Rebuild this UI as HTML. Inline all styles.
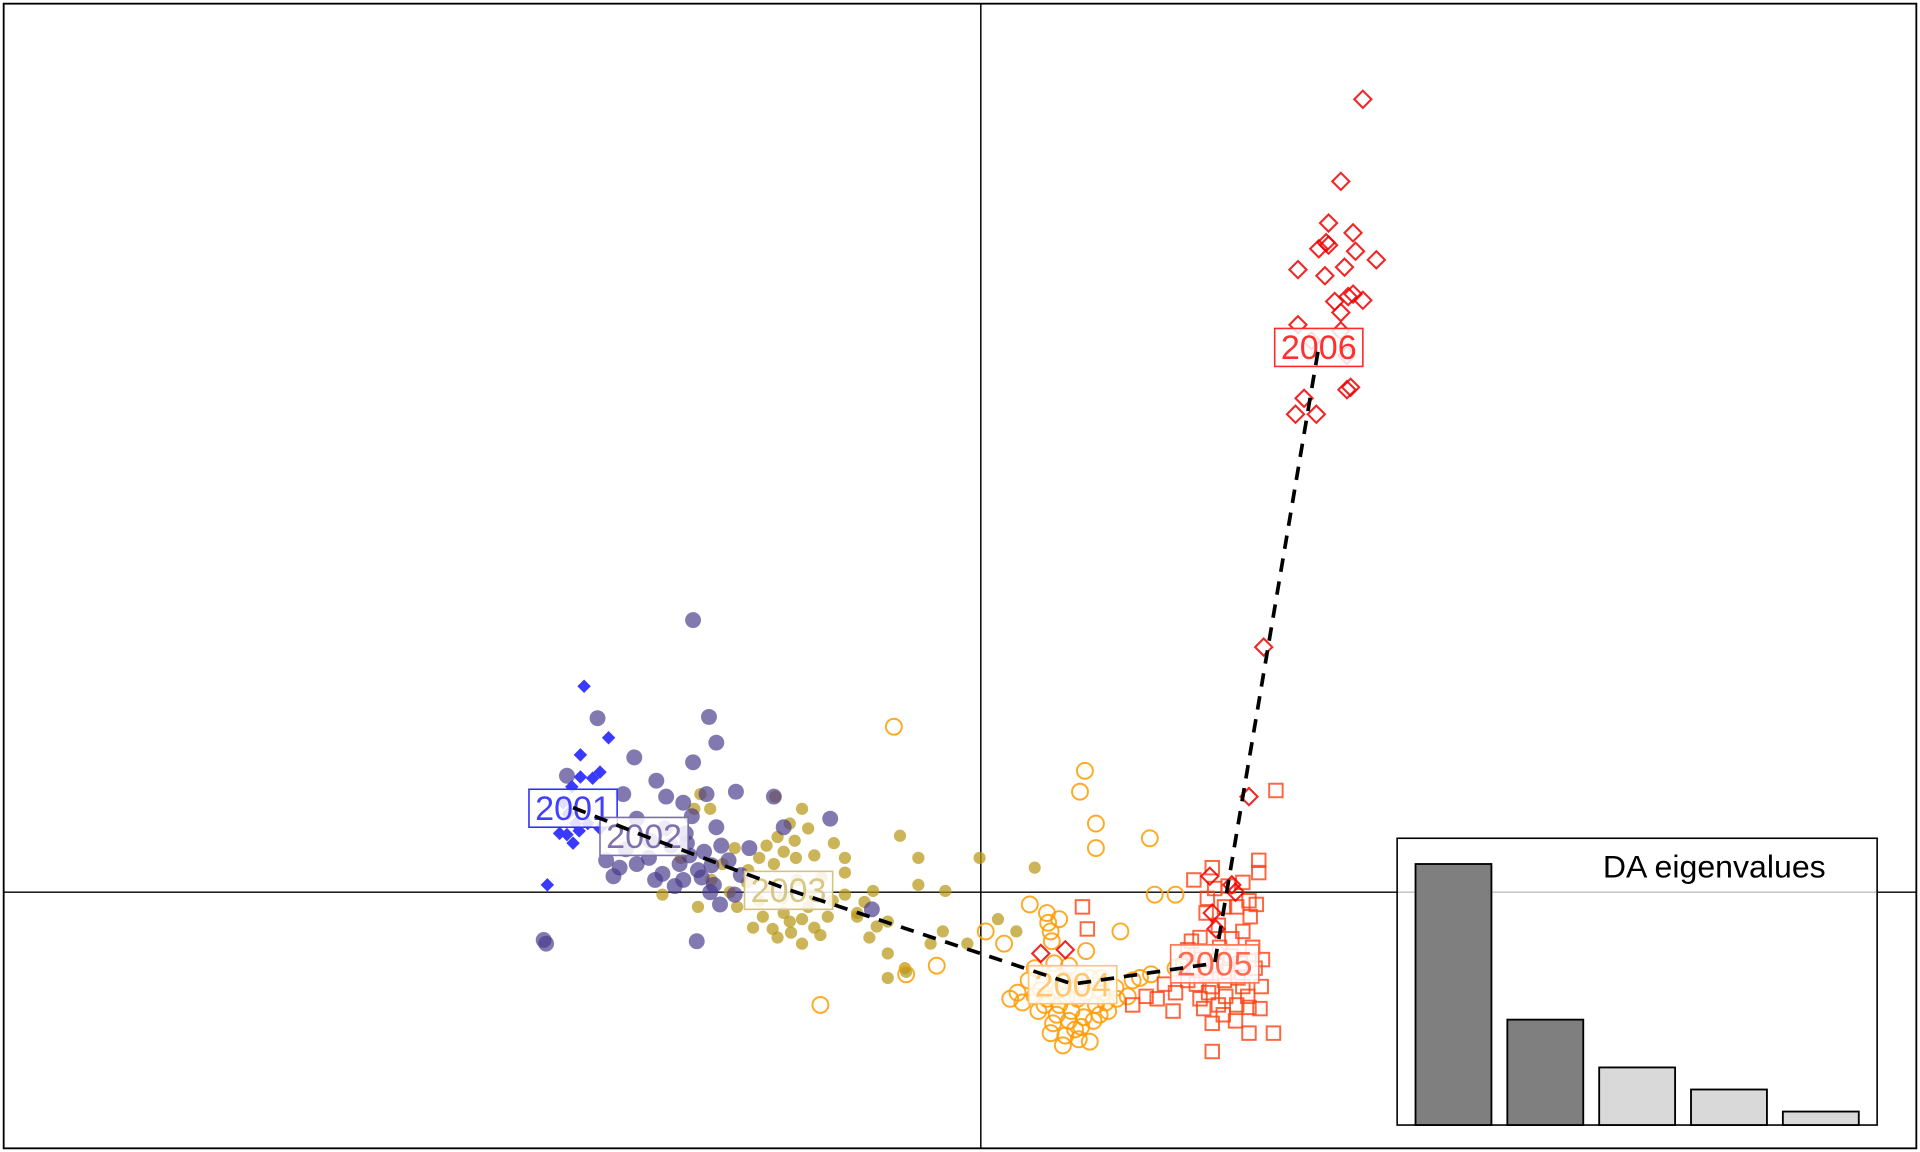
<!DOCTYPE html>
<html><head><meta charset="utf-8"><style>
html,body{margin:0;padding:0;background:#fff;}
svg{display:block;font-family:"Liberation Sans",sans-serif;}
</style></head><body>
<svg id="chart" width="1920" height="1152" viewBox="0 0 1568 940" preserveAspectRatio="none" xmlns="http://www.w3.org/2000/svg">
<rect x="3" y="3" width="1562" height="934" fill="#fff" stroke="#000" stroke-width="1.5"/>
<line x1="801" y1="3" x2="801" y2="937" stroke="#000" stroke-width="1.2"/>
<line x1="3" y1="728" x2="1565" y2="728" stroke="#000" stroke-width="1.2"/>
<g id="points"></g>
<g id="labels"></g>
<g id="path"></g>
<g id="inset"></g>
</svg>
<script>
const years = ["2001","2002","2003","2004","2005","2006"];
const centroids = [[-3.33,0.69],[-2.75,0.46],[-1.57,0.02],[0.75,-0.75],[1.91,-0.58],[2.76,4.45]];
const eigenvalues = [213, 86, 47, 29, 11];
const g2001 = [[-3.24,1.68],[-3.04,1.26],[-3.27,1.12],[-3.11,0.98],[-3.17,0.93],[-3.27,0.94],[-3.34,0.86],[-3.41,0.73],[-3.31,0.56],[-3.21,0.56],[-3.44,0.48],[-3.33,0.40],[-3.54,0.06],[-3.37,0.64],[-3.11,0.52],[-3.28,0.50],[-3.38,0.47]];
const g2002 = [[-2.35,2.22],[-3.13,1.42],[-2.22,1.43],[-2.16,1.22],[-2.83,1.10],[-2.65,0.91],[-3.38,0.95],[-2.35,1.06],[-2.92,0.80],[-2.57,0.78],[-2.43,0.73],[-2.24,0.80],[-2.00,0.82],[-1.23,0.60],[-1.69,0.78],[-2.81,0.60],[-2.41,0.48],[-2.16,0.53],[-3.00,0.13],[-2.66,0.10],[-2.43,0.10],[-2.21,0.00],[-1.96,0.14],[-2.32,-0.40],[-3.57,-0.39],[-2.71,0.28],[-2.46,0.23],[-3.06,0.26],[-1.89,0.36],[-2.26,0.33],[-1.61,0.53],[-2.06,0.26],[-2.53,0.38],[-2.31,0.18],[-2.18,0.06],[-2.81,0.23],[-2.01,-0.02],[-0.89,-0.14],[-2.90,0.35],[-2.60,0.15],[-2.38,0.30],[-2.28,0.12],[-2.50,0.05],[-2.12,0.38],[-2.95,0.20],[-2.70,0.42],[-2.20,0.22],[-2.40,0.40],[-2.58,0.52],[-2.36,0.62],[-2.13,-0.10],[-3.55,-0.42]];
const g2003 = [[-2.34,0.68],[-2.21,0.68],[-2.29,0.80],[-1.68,0.78],[-1.46,0.68],[-1.56,0.56],[-1.41,0.52],[-1.75,0.38],[-1.61,0.33],[-1.81,0.28],[-1.69,0.23],[-1.51,0.28],[-1.36,0.30],[-1.11,0.28],[-0.66,0.46],[-0.51,0.28],[-0.01,0.28],[0.44,0.20],[-0.29,0.01],[-0.51,0.06],[-0.88,0.01],[-1.11,0.16],[-1.91,0.08],[-1.81,-0.07],[-1.61,-0.17],[-1.41,-0.12],[-1.21,-0.07],[-1.01,-0.17],[-0.91,-0.37],[-0.76,-0.50],[-0.61,-0.65],[-0.76,-0.70],[-0.41,-0.42],[-0.31,-0.32],[-0.11,-0.42],[-1.11,-0.02],[-1.99,-0.12],[-1.86,-0.29],[-1.66,-0.37],[-1.46,-0.42],[-1.56,-0.24],[-1.36,-0.29],[-1.31,-0.35],[-1.01,-0.20],[-0.76,-0.24],[-2.31,-0.12],[-2.11,0.23],[-2.60,-0.02],[-2.01,0.36],[-2.45,0.28],[0.14,-0.22],[0.29,-0.32],[-1.72,0.05],[-1.62,-0.05],[-1.50,0.10],[-1.40,-0.02],[-1.30,0.12],[-1.78,-0.20],[-1.46,-0.22],[-1.25,-0.20],[-1.90,0.18],[-1.66,0.45],[-1.52,0.42],[-1.20,0.40],[-1.70,-0.30],[-1.55,-0.33],[-0.95,-0.08],[-0.85,-0.28],[-0.62,-0.62],[-2.20,0.10],[-2.05,0.00]];
const g2004 = [[-0.71,1.35],[0.85,0.99],[0.81,0.82],[0.94,0.56],[0.94,0.36],[1.38,0.44],[-1.31,-0.92],[-0.36,-0.60],[-0.61,-0.67],[0.19,-0.42],[0.04,-0.32],[1.14,-0.32],[1.42,-0.02],[1.59,-0.02],[0.54,-0.17],[0.64,-0.22],[0.57,-0.32],[1.24,-0.72],[1.39,-0.67],[0.44,-0.62],[0.59,-0.67],[0.69,-0.72],[0.79,-0.77],[0.89,-0.70],[0.99,-0.82],[0.54,-0.87],[0.64,-0.92],[0.74,-0.97],[0.84,-1.02],[0.47,-0.97],[0.59,-1.07],[0.77,-1.12],[0.89,-1.22],[0.69,-1.17],[0.24,-0.87],[0.34,-0.90],[1.04,-0.97],[1.11,-0.87],[0.49,-0.80],[0.79,-0.87],[0.94,-0.92],[0.64,-0.80],[0.39,-0.72],[1.74,-0.52],[1.59,-0.62],[0.52,-0.92],[0.62,-1.00],[0.72,-1.05],[0.82,-1.10],[0.92,-1.05],[0.57,-1.15],[0.67,-1.25],[0.80,-1.20],[0.97,-1.00],[1.02,-0.90],[0.70,-0.85],[0.85,-0.82],[0.60,-0.58],[0.72,-0.60],[0.44,-0.85],[0.30,-0.82],[1.10,-0.78],[0.98,-0.70],[1.20,-0.85],[0.55,-0.25],[0.58,-0.40],[0.40,-0.10],[1.30,-0.70],[0.86,-0.48]];
const g2005 = [[2.41,0.83],[2.27,0.26],[2.27,0.16],[1.89,0.20],[1.74,0.10],[2.19,-0.07],[2.09,-0.12],[1.84,-0.17],[1.94,-0.27],[2.14,-0.32],[1.79,-0.37],[1.69,-0.47],[0.83,-0.12],[0.87,-0.30],[1.74,-0.62],[1.84,-0.67],[1.99,-0.72],[2.14,-0.77],[2.24,-0.62],[2.29,-0.77],[1.59,-0.82],[1.44,-0.87],[1.24,-0.92],[1.79,-0.87],[1.94,-0.92],[2.09,-0.92],[2.19,-0.94],[1.89,-1.07],[2.19,-1.15],[2.39,-1.15],[1.89,-1.30],[2.04,-0.52],[1.89,-0.77],[1.69,-0.72],[1.57,-0.97],[1.99,-0.12],[1.91,0.03],[2.14,0.08],[1.80,-0.55],[1.92,-0.60],[2.02,-0.65],[2.12,-0.58],[1.86,-0.82],[2.00,-0.85],[2.10,-0.70],[1.76,-0.75],[2.22,-0.45],[1.95,-0.45],[2.05,-0.38],[2.20,-0.20],[1.85,-0.05],[2.02,0.05],[2.18,-0.85],[2.28,-0.95],[1.65,-0.60],[1.50,-0.75],[1.35,-0.85],[1.98,-1.00],[2.08,-1.05],[2.25,-0.10],[2.30,-0.55],[1.72,-0.40],[1.82,-0.95]];
const g2006 = [[3.12,6.47],[2.94,5.80],[2.84,5.46],[3.04,5.38],[2.76,5.25],[2.82,5.30],[3.06,5.23],[3.23,5.16],[2.59,5.08],[2.81,5.03],[2.97,5.10],[2.89,4.82],[3.04,4.88],[3.12,4.83],[2.94,4.73],[2.59,4.63],[2.94,4.58],[2.99,4.10],[2.57,3.90],[2.74,3.90],[2.64,4.03],[2.31,2.00],[2.19,0.78],[0.49,-0.50],[0.69,-0.47],[1.87,0.13],[2.05,0.06],[1.89,-0.17],[2.99,4.38],[2.84,5.28],[3.00,4.86],[2.70,4.50],[3.02,4.12],[1.92,-0.30],[2.08,0.00]];

const NS = "http://www.w3.org/2000/svg";
function xs(v){ return 801 + v*100; }
function ys(v){ return 728 - v*100; }
function mk(tag, attrs, parent){
  const e = document.createElementNS(NS, tag);
  for (const k in attrs) e.setAttribute(k, attrs[k]);
  parent.appendChild(e);
  return e;
}
const P = document.getElementById("points");
function diamond(x,y,s){ return `${x},${y-s} ${x+s},${y} ${x},${y+s} ${x-s},${y}`; }

g2003.forEach(d => {
  const e = mk("circle", {cx: xs(d[0]), cy: ys(d[1]), r: 5, fill: "rgba(184,152,24,0.72)"}, P);
  
  
});
g2002.forEach(d => {
  const e = mk("circle", {cx: xs(d[0]), cy: ys(d[1]), r: 6.5, fill: "rgba(72,58,140,0.68)"}, P);
  
  
});
g2001.forEach(d => {
  const e = mk("polygon", {points: diamond(xs(d[0]), ys(d[1]), 5.5), fill: "#3a3aff"}, P);
  
  
});
g2004.forEach(d => {
  const e = mk("circle", {cx: xs(d[0]), cy: ys(d[1]), r: 6.5, fill: "none", stroke: "rgba(255,155,0,0.85)", "stroke-width": 1.6}, P);
  
  
});
g2005.forEach(d => {
  const e = mk("rect", {x: xs(d[0])-5.5, y: ys(d[1])-5.5, width: 11, height: 11, fill: "none", stroke: "rgba(255,64,16,0.8)", "stroke-width": 1.6}, P);
  
  
});
g2006.forEach(d => {
  const e = mk("polygon", {points: diamond(xs(d[0]), ys(d[1]), 7), fill: "none", stroke: "rgba(240,0,0,0.85)", "stroke-width": 1.7}, P);
  
  
});

const borderCols = ["#3030ff","#7a6fb0","#d6c27a","#ffc56a","#ff7050","#ff2a2a"];
const textCols = ["#4040ff","#8070b0","#d8c888","#ffc870","#ff6a50","#ff3030"];
const L = document.getElementById("labels");
centroids.forEach((c,i) => {
  const cx = xs(c[0]), cy = ys(c[1]);
  const r = mk("rect", {x: cx-36, y: cy-15, width: 72, height: 31, fill: "rgba(255,255,255,0.85)", stroke: borderCols[i], "stroke-width": 1.3}, L);
  
  
  const t = mk("text", {x: cx, y: cy+10, "text-anchor": "middle", "font-size": 28, "textLength": 62, "lengthAdjust": "spacingAndGlyphs", fill: textCols[i]}, L);
  t.textContent = years[i];
  
  
});
const pl = mk("polyline", {points: centroids.map(c => xs(c[0]) + "," + ys(c[1])).join(" "), fill: "none", stroke: "#000", "stroke-width": 3, "stroke-dasharray": "11,8"}, document.getElementById("path"));



const I = document.getElementById("inset");
const box = mk("rect", {x: 1141, y: 684, width: 392, height: 234, fill: "rgba(255,255,255,0.75)", stroke: "#000", "stroke-width": 1.3}, I);


const maxE = Math.max(...eigenvalues);
eigenvalues.forEach((v,i) => {
  const h = v / maxE * 213;
  const b = mk("rect", {x: 1156 + i*75, y: 918 - h, width: 62, height: h, fill: i < 2 ? "#7f7f7f" : "#d9d9d9", stroke: "#000", "stroke-width": 1.5}, I);
  
  
});
const tt = mk("text", {x: 1400, y: 716, "text-anchor": "middle", "font-size": 26, "textLength": 182, "lengthAdjust": "spacingAndGlyphs", fill: "#000"}, I);
tt.textContent = "DA eigenvalues";


</script>
</body></html>
